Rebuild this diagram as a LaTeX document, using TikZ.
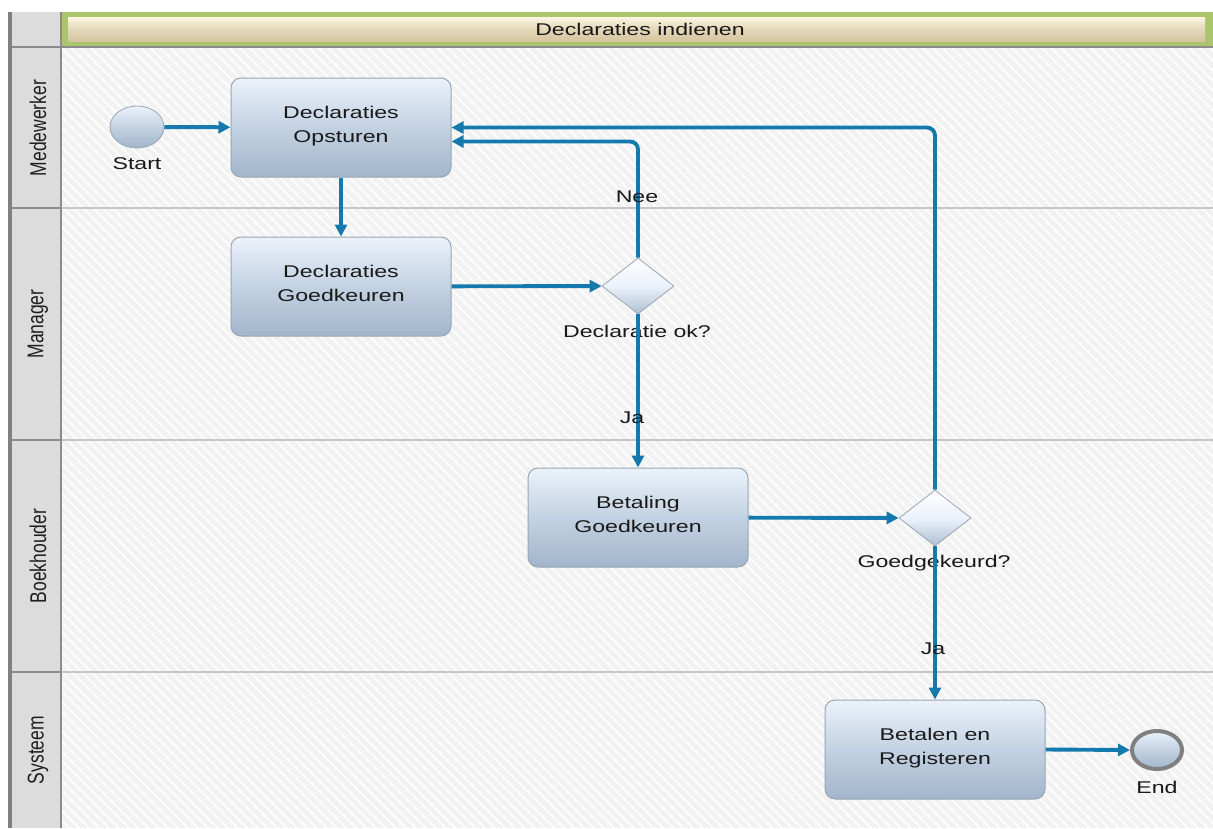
\documentclass[tikz,border=0pt]{standalone}
\usepackage{fontspec}
\setmainfont{Liberation Sans}
\newfontfamily\lab[FakeStretch=1.36]{Liberation Sans}
\usetikzlibrary{shapes.geometric,arrows.meta,patterns.meta}
\definecolor{flowc}{HTML}{1479AD}
\definecolor{boxtop}{HTML}{EBF2FB}
\definecolor{boxmid}{HTML}{C3D2E2}
\definecolor{boxbot}{HTML}{A2B5CB}
\definecolor{boxline}{HTML}{9AA6B2}
\definecolor{lanebg}{HTML}{F2F2F2}
\definecolor{hdrgray}{HTML}{DCDCDC}
\definecolor{sepgray}{HTML}{C6C6C6}
\definecolor{green1}{HTML}{ABC56E}
\definecolor{beigetop}{HTML}{FCF5E0}
\definecolor{beigebot}{HTML}{D5C59F}
\tikzset{
  x=1pt, y=-1pt,
  txt/.style={font=\lab\fontsize{17}{24}\selectfont, text=black!90, align=center},
  task/.style={txt, rectangle, rounded corners=10pt, minimum width=220pt, minimum height=99pt,
    draw=boxline, line width=1pt, top color=boxtop, bottom color=boxbot, middle color=boxmid, inner sep=0pt},
  gate/.style={diamond, minimum width=72pt, minimum height=56pt, inner sep=0pt, draw=boxline,
    line width=0.8pt, top color=white, bottom color=boxbot!85, middle color=boxtop},
  evt/.style={ellipse, minimum width=54pt, minimum height=42pt, inner sep=0pt,
    top color=boxtop, bottom color=boxbot, middle color=boxmid},
  flow/.style={draw=flowc, line width=3.9pt, -{Triangle[length=12pt,width=12pt]}},
  lanelbl/.style={font=\fontsize{17.5}{19}\selectfont, text=black!88, rotate=90, inner sep=0pt},
  sep/.style={draw=sepgray, line width=2.5pt},
}
\begin{document}
\begin{tikzpicture}
\useasboundingbox (0,0) rectangle (1213,828);
\fill[white] (0,0) rectangle (1213,828);
% lanes background
\fill[lanebg] (62,47) rectangle (1213,828);
\fill[pattern={Lines[angle=-45,distance=7pt,line width=1.6pt]}, pattern color=white] (62,47) rectangle (1213,828);
% header column
\fill[hdrgray] (12,12) rectangle (61,828);
\draw[black!50, line width=4pt] (10,12) -- (10,828);
\draw[black!45, line width=2.5pt] (61,12) -- (61,828);
% title
\fill[green1] (62,12) rectangle (1213,46);
\fill[top color=beigetop, bottom color=beigebot, middle color=beigebot!60!beigetop] (68,17) rectangle (1205,41);
\draw[black!45, line width=2pt] (62,47) -- (1213,47);
\draw[black!45, line width=2.5pt] (12,47) -- (61,47);
\node[txt] (title) at (640,29) {Declaraties indienen};
% lane separators
\foreach \yy in {208,440,672} {
  \draw[sep] (62,\yy) -- (1213,\yy);
  \draw[black!45, line width=2.5pt] (12,\yy) -- (61,\yy);
}
% lane labels
\node[lanelbl] (l1) at (38,128) {\scalebox{1}[1.3]{Medewerker}};
\node[lanelbl] (l2) at (38,324) {\scalebox{1}[1.3]{Manager}};
\node[lanelbl] (l3) at (38,556) {\scalebox{1}[1.3]{Boekhouder}};
\node[lanelbl] (l4) at (38,750) {\scalebox{1}[1.3]{Systeem}};
% nodes
\node[evt, draw=boxline, line width=0.8pt] (start) at (137,127) {};
\node[txt] (startl) at (137,164) {Start};
\node[task] (op) at (341,127.5) {Declaraties\\Opsturen\\[-18pt]};
\node[task] (gk) at (341,286.5) {Declaraties\\Goedkeuren\\[-18pt]};
\node[gate] (d1) at (638,286) {};
\node[txt] (d1l) at (637,331) {Declaratie ok?};
\node[task] (bg) at (638,517.5) {Betaling\\Goedkeuren\\[-18pt]};
\node[gate] (d2) at (935,518) {};
\node[txt] (d2l) at (934,563) {Goedgekeurd?};
\node[task] (br) at (935,749.5) {Betalen en\\Registeren\\[-18pt]};
\node[evt, draw=black!50, line width=4pt, minimum width=50pt, minimum height=38pt] (end) at (1157,750) {};
\node[txt] (endl) at (1157,787) {End};
% connectors
\draw[flow] (start) -- (op);
\draw[flow] (op) -- (gk);
\draw[flow] (gk) -- (d1);
\draw[flow, rounded corners=8pt] (d1.north) |- ([yshift=-14pt]op.east);
\draw[flow] (d1.south) -- (bg.north);
\draw[flow] (bg) -- (d2);
\draw[flow, rounded corners=8pt] (d2.north) |- (op.east);
\draw[flow] (d2.south) -- (br.north);
\draw[flow] (br.east) -- (end.west);
% edge labels
\node[txt] (nee) at (637,197) {Nee};
\node[txt] (ja1) at (632,418) {Ja};
\node[txt] (ja2) at (933,649) {Ja};
\end{tikzpicture}
\end{document}
